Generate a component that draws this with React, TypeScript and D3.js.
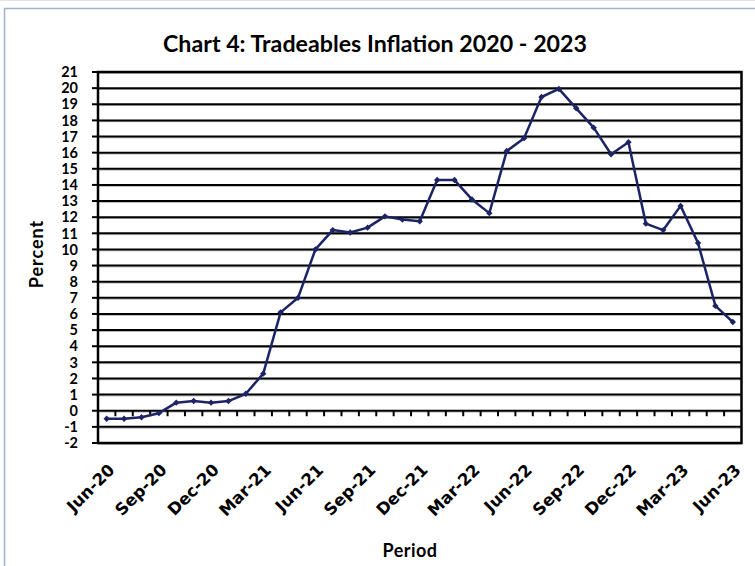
import React from "react";
import * as d3 from "d3";

const months = ["Jun","Jul","Aug","Sep","Oct","Nov","Dec","Jan","Feb","Mar","Apr","May"];
const years = ["20","21","22","23"];
const periods: string[] = [];
for (let i = 0; i < 37; i++) {
  const m = i % 12;
  const yIdx = Math.floor((i + 5) / 12);
  periods.push(`${months[m]}-${years[yIdx]}`);
}

const tradeables = [
  -0.5, -0.5, -0.4, -0.15, 0.5, 0.6, 0.5, 0.6, 1.05, 2.3, 6.1, 7.0, 10.0,
  11.2, 11.05, 11.35, 12.05, 11.85, 11.75, 14.3, 14.3, 13.1, 12.25, 16.1,
  16.9, 19.45, 19.95, 18.75, 17.55, 15.9, 16.65, 11.6, 11.2, 12.7, 10.4,
  6.5, 5.5,
];

const yTicks = d3.range(-2, 22, 1);

const W = 755;
const H = 566;
const left = 98;
const right = 741.5;
const top = 72;
const bottom = 443;

const font = "Lato, 'DejaVu Sans', sans-serif";
const wideFont = "'DejaVu Sans', Lato, sans-serif";

export default function App() {
  const x = d3.scaleBand<string>().domain(periods).range([left, right]);
  const y = d3.scaleLinear().domain([-2, 21]).range([bottom, top]);
  const cx = (p: string) => (x(p) as number) + x.bandwidth() / 2;
  const line = d3
    .line<number>()
    .x((_, i) => cx(periods[i]))
    .y((d) => y(d));

  const labelIdx = periods.map((_, i) => i).filter((i) => i % 3 === 0);

  return (
    <svg
      width={W}
      height={H}
      style={{ position: "absolute", left: 0, top: 0, background: "#fff" }}
    >
      <rect x={0} y={0} width={W} height={H} fill="#fff" />
      <line x1={0} x2={W} y1={0.5} y2={0.5} stroke="#e4e4e4" />
      <rect x={4.5} y={8.5} width={W + 20} height={H + 20} fill="none" stroke="#9fb0d4" strokeWidth={1.5} />

      <text
        x={375}
        y={52}
        textAnchor="middle"
        fontFamily={font}
        fontWeight="bold"
        fontSize={22}
        textLength={424}
        lengthAdjust="spacingAndGlyphs"
        fill="#000"
      >
        Chart 4: Tradeables Inflation 2020 - 2023
      </text>

      {/* gridlines */}
      {yTicks.map((t) => (
        <g key={t}>
          <line x1={left} x2={right} y1={y(t) + 1.3} y2={y(t) + 1.3} stroke="#b0b0b0" strokeWidth={1} />
          <line x1={left} x2={right} y1={y(t)} y2={y(t)} stroke="#000" strokeWidth={2} />
        </g>
      ))}

      {/* plot border */}
      <rect x={left} y={top} width={right - left} height={bottom - top} fill="none" stroke="#000" strokeWidth={2.5} />

      {/* y ticks */}
      {yTicks.map((t) => (
        <g key={"yt" + t}>
          <line x1={left - 6} x2={left} y1={y(t)} y2={y(t)} stroke="#000" strokeWidth={2} />
          <text
            x={78}
            y={y(t)}
            dy="0.36em"
            textAnchor="end"
            fontFamily={font}
            fontWeight="bold"
            fontSize={14.5}
            fill="#000"
          >
            {t}
          </text>
        </g>
      ))}

      {/* x ticks on zero line */}
      {periods.slice(1).map((p) => (
        <line
          key={"xt" + p}
          x1={x(p) as number}
          x2={x(p) as number}
          y1={y(0)}
          y2={y(0) + 5.5}
          stroke="#000"
          strokeWidth={2}
        />
      ))}

      {/* x labels */}
      {labelIdx.map((i) => {
        const px = cx(periods[i]) + 9;
        const py = 471;
        return (
          <text
            key={"xl" + i}
            transform={`translate(${px},${py}) rotate(-45)`}
            textAnchor="end"
            fontFamily={wideFont}
            fontWeight="bold"
            fontSize={16.5}
            fill="#000"
          >
            {periods[i]}
          </text>
        );
      })}

      {/* line */}
      <path d={line(tradeables) || ""} fill="none" stroke="#1c2466" strokeWidth={2.5} strokeLinejoin="round" />
      {tradeables.map((v, i) => {
        const px = cx(periods[i]);
        const py = y(v);
        const s = 3.2;
        return (
          <path
            key={"m" + i}
            d={`M${px},${py - s}L${px + s},${py}L${px},${py + s}L${px - s},${py}Z`}
            fill="#1c2466"
          />
        );
      })}

      {/* axis titles */}
      <text
        transform={`translate(43,254) rotate(-90)`}
        textAnchor="middle"
        fontFamily={font}
        fontWeight="bold"
        fontSize={18}
        letterSpacing={1}
        fill="#000"
      >
        Percent
      </text>
      <text x={410} y={557} textAnchor="middle" fontFamily={font} fontWeight="bold" fontSize={18} letterSpacing={0.5} fill="#000">
        Period
      </text>
    </svg>
  );
}
